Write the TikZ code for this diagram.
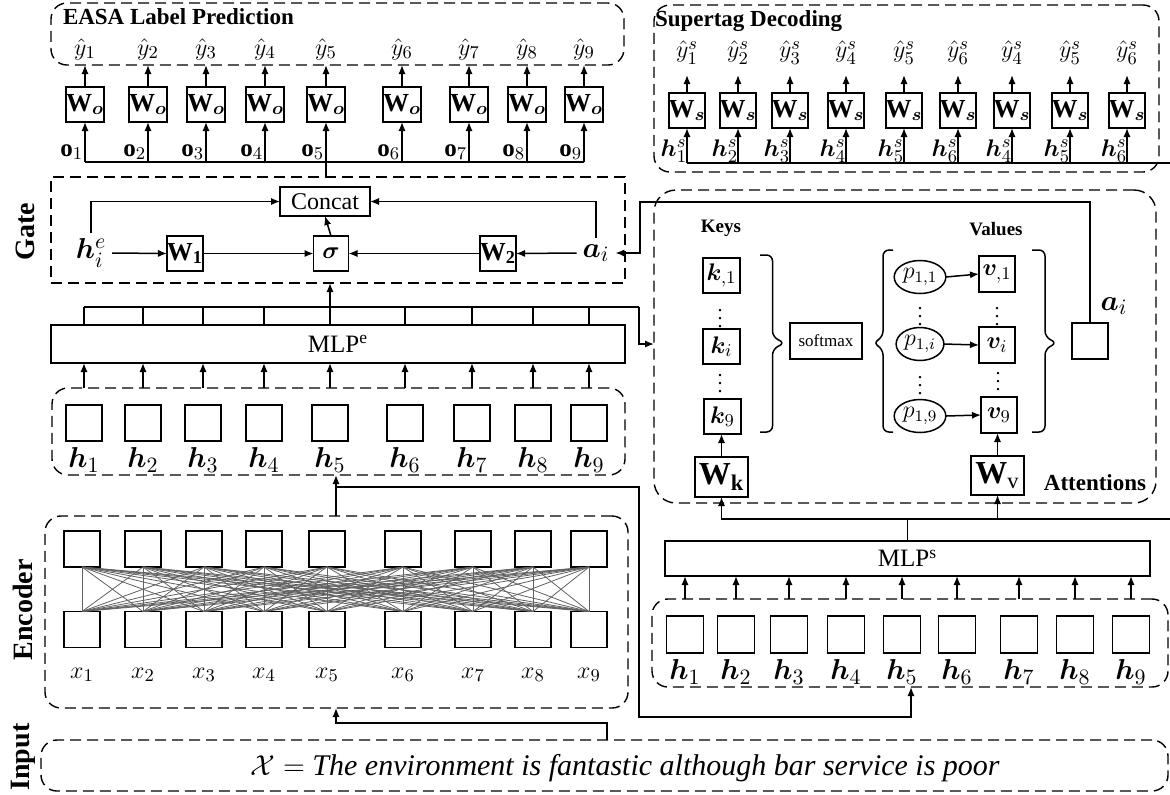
\documentclass[tikz,border=0pt]{standalone}
\usepackage{amsmath,bm}
\usepackage{fontspec}
\setmainfont{Liberation Serif}
\usetikzlibrary{arrows.meta,calc,shapes.geometric}
\newcommand\fsz[1]{\fontsize{#1}{#1}\selectfont}
\begin{document}
\begin{tikzpicture}[x=0.5pt,y=-0.5pt,
  every node/.style={inner sep=0pt,outer sep=0pt},
  ln/.style={line width=0.75pt},
  arr/.style={ln,-{Latex[length=4.5pt,width=3.6pt]}},
  fc/.style={line width=0.4pt,draw=black!62},
  box/.style={draw,line width=0.95pt},
  wbox/.style={box,minimum width=17.5pt,minimum height=17.5pt,font=\fsz{13}},
  hbox/.style={box,minimum width=18pt,minimum height=18pt},
  grp/.style={draw,line width=0.7pt,dash pattern=on 5.5pt off 3pt,rounded corners=8pt},
  side/.style={font=\fsz{14}\bfseries,rotate=90},
  ttl/.style={font=\fsz{11.5}\bfseries},
  lab/.style={font=\fsz{13}},
  olab/.style={font=\fsz{12.5}},
  hlab/.style={font=\fsz{15}}
]
\useasboundingbox (0,0) rectangle (1170,794);

% ---------- containers ----------
\node[grp,minimum width=286.5pt,minimum height=31pt] (easa) at (337.5,34) {};
\node[grp,minimum width=252.5pt,minimum height=83.5pt] (stag) at (906.5,88.5) {};
\node[grp,rounded corners=0pt,minimum width=287pt,minimum height=53pt] (gate) at (338,230) {};
\node[grp,rounded corners=11pt,minimum width=251pt,minimum height=156.5pt] (att) at (905,346.5) {};
\node[grp,minimum width=286.5pt,minimum height=43.5pt] (hleft) at (338.5,431.5) {};
\node[grp,minimum width=291.5pt,minimum height=96pt] (enc) at (336.5,612) {};
\node[grp,minimum width=563.5pt,minimum height=25.5pt] (inp) at (604.5,765.5) {};
\node[grp,minimum width=258pt,minimum height=44pt] (hright) at (910,643) {};

\node[box,line width=0.8pt,minimum width=287pt,minimum height=19pt,font=\fsz{12.5}] (mlpe) at (338,344) {MLP\textsuperscript{e}};
\node[box,line width=0.8pt,minimum width=242.5pt,minimum height=17.5pt,font=\fsz{12.5}] (mlps) at (907.5,558.5) {MLP\textsuperscript{s}};

% ---------- side labels and titles ----------
\node[side] (lgate) at (25,232) {Gate};
\node[side] (lenc) at (23,610) {Encoder};
\node[side] (linp) at (23,757) {Input};
\node[ttl,anchor=west] (teasa) at (63,17) {EASA Label Prediction};
\node[ttl,anchor=west] (tstag) at (655,21) {Supertag Decoding};

% ---------- EASA label prediction ----------
\coordinate (obus) at (326,162);
\foreach \x [count=\i] in {85,148,206,265,326,402,469,527,584} {
  \node[wbox] (wo\i) at (\x,104.5) {$\mathbf{W}_{\bm{o}}$};
  \node[lab] (yh\i) at (\x,49) {$\hat{y}_{\i}$};
  \draw[arr] (wo\i.north) -- (wo\i.north |- easa.south);
  \draw[arr] (wo\i |- obus) -- (wo\i.south);
  \node[olab,anchor=base east] (ol\i) at ($(wo\i |- obus)+(-2,-6)$) {$\mathbf{o}_{\i}$};
}
\draw[ln] (wo1 |- obus) -- (wo9 |- obus);
\draw[ln] (obus) -- (obus |- gate.north);

% ---------- supertag decoding ----------
\coordinate (sbus) at (1170,163);
\foreach \x/\k [count=\i] in {687/1,738/2,790/3,846/4,904/5,958/6,1012/4,1070/5,1127/6} {
  \node[wbox] (ws\i) at (\x,110.5) {$\mathbf{W}_{\bm{s}}$};
  \node[lab] (ys\i) at (\x,53) {$\hat{y}^{s}_{\k}$};
  \draw[arr] (ws\i.north) -- ++(0,-18);
  \draw[arr] (ws\i |- sbus) -- (ws\i.south);
  \node[olab,anchor=base east] (hs\i) at ($(ws\i |- sbus)+(0,-7)$) {$\bm{h}^{s}_{\k}$};
}
\draw[ln] (ws1 |- sbus) -- (sbus);

% ---------- gate ----------
\node[box,minimum width=45pt,minimum height=14.5pt,font=\fsz{12}] (concat) at (325,201.5) {Concat};
\node[hlab,inner sep=3pt] (hie) at (91,253) {$\bm{h}_i^e$};
\node[wbox] (w1) at (185,253.5) {$\mathbf{W}_{\mathbf{1}}$};
\node[wbox] (sig) at (331,253.5) {$\bm{\sigma}$};
\node[wbox] (w2) at (498,253.5) {$\mathbf{W}_{\mathbf{2}}$};
\node[hlab,inner sep=3pt] (ai) at (596,253) {$\bm{a}_i$};
\draw[arr] (hie.east) -- (w1.west);
\draw[arr] (w1.east) -- (sig.west);
\draw[arr] (w2.west) -- (sig.east);
\draw[arr] (ai.west) -- (w2.east);
\draw[arr] (sig.north) -- (concat.south);
\draw[arr] (hie.north) |- (concat.west);
\draw[arr] (ai.north) |- (concat.east);

% ---------- MLP^e and its inputs ----------
\coordinate (bus) at (639,307);
\foreach \x [count=\i] in {84,143,203,264,330,405,472,533,589} {
  \node[hbox] (hb\i) at (\x,423) {};
  \node[hlab] (hl\i) at (\x,460) {$\bm{h}_{\i}$};
  \draw[arr] (hb\i |- hleft.north) -- (hb\i |- mlpe.south);
  \draw[ln] (hb\i |- mlpe.north) -- (hb\i |- bus);
}
\draw[ln] (hb1 |- bus) -- (bus);
\draw[arr] (bus) |- (att.west |- mlpe.center);
\draw[arr] (hb5 |- bus) -- (hb5 |- gate.south);

% ---------- attentions ----------
\node[font=\fsz{9.5}\bfseries] (keys) at (721,228) {Keys};
\node[font=\fsz{9.5}\bfseries] (vals) at (996,229) {Values};
\node[font=\fsz{11.5}\bfseries] (tatt) at (1095,483) {Attentions};
\node[box,minimum width=18.5pt,minimum height=17.5pt,font=\fsz{12.5}] (k1) at (721.5,275.5) {$\bm{k}_{,1}$};
\node[box,minimum width=18.5pt,minimum height=17.5pt,font=\fsz{12.5}] (ki) at (721.5,346.5) {$\bm{k}_{i}$};
\node[box,minimum width=18.5pt,minimum height=17.5pt,font=\fsz{12.5}] (k9) at (722.5,416.5) {$\bm{k}_{9}$};
\node[font=\fsz{10}] (kd1) at (720,313) {$\vdots$};
\node[font=\fsz{10}] (kd2) at (720,378) {$\vdots$};
\draw[ln,rounded corners=3pt] (760,255) -- (772.5,255) -- (772.5,337) -- (785,343) -- (772.5,349) -- (772.5,432) -- (760,432);
\node[box,minimum width=36pt,minimum height=18pt,font=\fsz{8.5}] (smax) at (826,341) {softmax};
\draw[ln,rounded corners=3pt] (893,250) -- (883,250) -- (883,337) -- (873,343) -- (883,349) -- (883,432) -- (893,432);
\foreach \n/\y/\s in {1/277/{1,1},i/344/{1,i},9/416/{1,9}} {
  \node[draw,ellipse,line width=0.75pt,minimum width=18.5pt,minimum height=16.5pt,inner sep=0.5pt,font=\fsz{11.5}] (p\n) at (920,\y) {$p_{\s}$};
}
\node[box,minimum width=18pt,minimum height=18pt,font=\fsz{12.5}] (v1) at (997,274) {$\bm{v}_{,1}$};
\node[box,minimum width=18pt,minimum height=18pt,font=\fsz{12.5}] (vi) at (997,345) {$\bm{v}_{i}$};
\node[box,minimum width=18pt,minimum height=18pt,font=\fsz{12.5}] (v9) at (999,415) {$\bm{v}_{9}$};
\draw[arr] (p1.east) -- (v1.west);
\draw[arr] (pi.east) -- (vi.west);
\draw[arr] (p9.east) -- (v9.west);
\node[font=\fsz{10}] (pd1) at (920,311) {$\vdots$};
\node[font=\fsz{10}] (pd2) at (920,380) {$\vdots$};
\node[font=\fsz{10}] (vd1) at (997,311) {$\vdots$};
\node[font=\fsz{10}] (vd2) at (998,376) {$\vdots$};
\draw[ln,rounded corners=3pt] (1032,250) -- (1045,250) -- (1045,337) -- (1057,343) -- (1045,349) -- (1045,432) -- (1032,432);
\node[box,minimum width=18pt,minimum height=18pt] (abox) at (1090,341) {};
\node[hlab] (alab) at (1114,306) {$\bm{a}_i$};
\node[box,minimum width=26.5pt,minimum height=20pt,font=\fsz{16}] (wk) at (721.5,477) {$\mathbf{W}_{\mathbf{k}}$};
\node[box,minimum width=26.5pt,minimum height=19.5pt,font=\fsz{16}] (wv) at (997.5,475.5) {$\mathbf{W}_{\mathrm{v}}$};
\draw[arr] (wk.north) -- (wk.north |- k9.south);
\draw[arr] (wv.north) -- (wv.north |- v9.south);
\coordinate (aturn) at (640,202);
\draw[arr] (abox.north) |- (aturn) |- (ai.east);

% ---------- MLP^s and the second row of states ----------
\coordinate (mbus) at (1170,519);
\draw[ln] (mlps.north) -- (mlps.north |- mbus);
\draw[arr] (mlps.north |- mbus) -| (wk.south);
\draw[ln] (mlps.north |- mbus) -- (mbus);
\draw[arr] (wv.south |- mbus) -- (wv.south);
\foreach \x [count=\i] in {685,736,789,846,902,957,1019,1075,1131} {
  \node[hbox,minimum width=18.5pt,minimum height=18.5pt] (hr\i) at (\x,634.5) {};
  \node[hlab] (hrl\i) at (\x,672) {$\bm{h}_{\i}$};
  \draw[arr] (hr\i |- hright.north) -- (hr\i |- mlps.south);
}

% ---------- encoder ----------
\foreach \x [count=\i] in {82,143,204,264,327,403,473,533,589} {
  \node[hbox] (et\i) at (\x,549) {};
  \node[hbox] (eb\i) at (\x,629.5) {};
  \node[lab] (xl\i) at (\x,675) {$x_{\i}$};
}
\foreach \i in {1,...,9} {
  \foreach \j in {1,...,9} {
    \draw[fc] (et\i.south) -- (eb\j.north);
  }
}

% ---------- flow between encoder, state rows and input ----------
\coordinate (split) at (336,487);
\coordinate (bendB) at (639,717);
\coordinate (rt) at (911,717);
\draw[arr] (split |- enc.north) -- (split |- hleft.south);
\draw[arr] (split) -| (bendB) -- (rt) -- (rt |- hright.south);
\coordinate (ia) at (607,723);
\coordinate (ib) at (336,723);
\draw[arr] (ia |- inp.north) -- (ia) -- (ib) -- (ib |- enc.south);

\node[font=\fsz{15}] (sent) at (625,768) {$\mathcal{X} =$ \textit{The environment is fantastic although bar service is poor}};
\end{tikzpicture}
\end{document}
